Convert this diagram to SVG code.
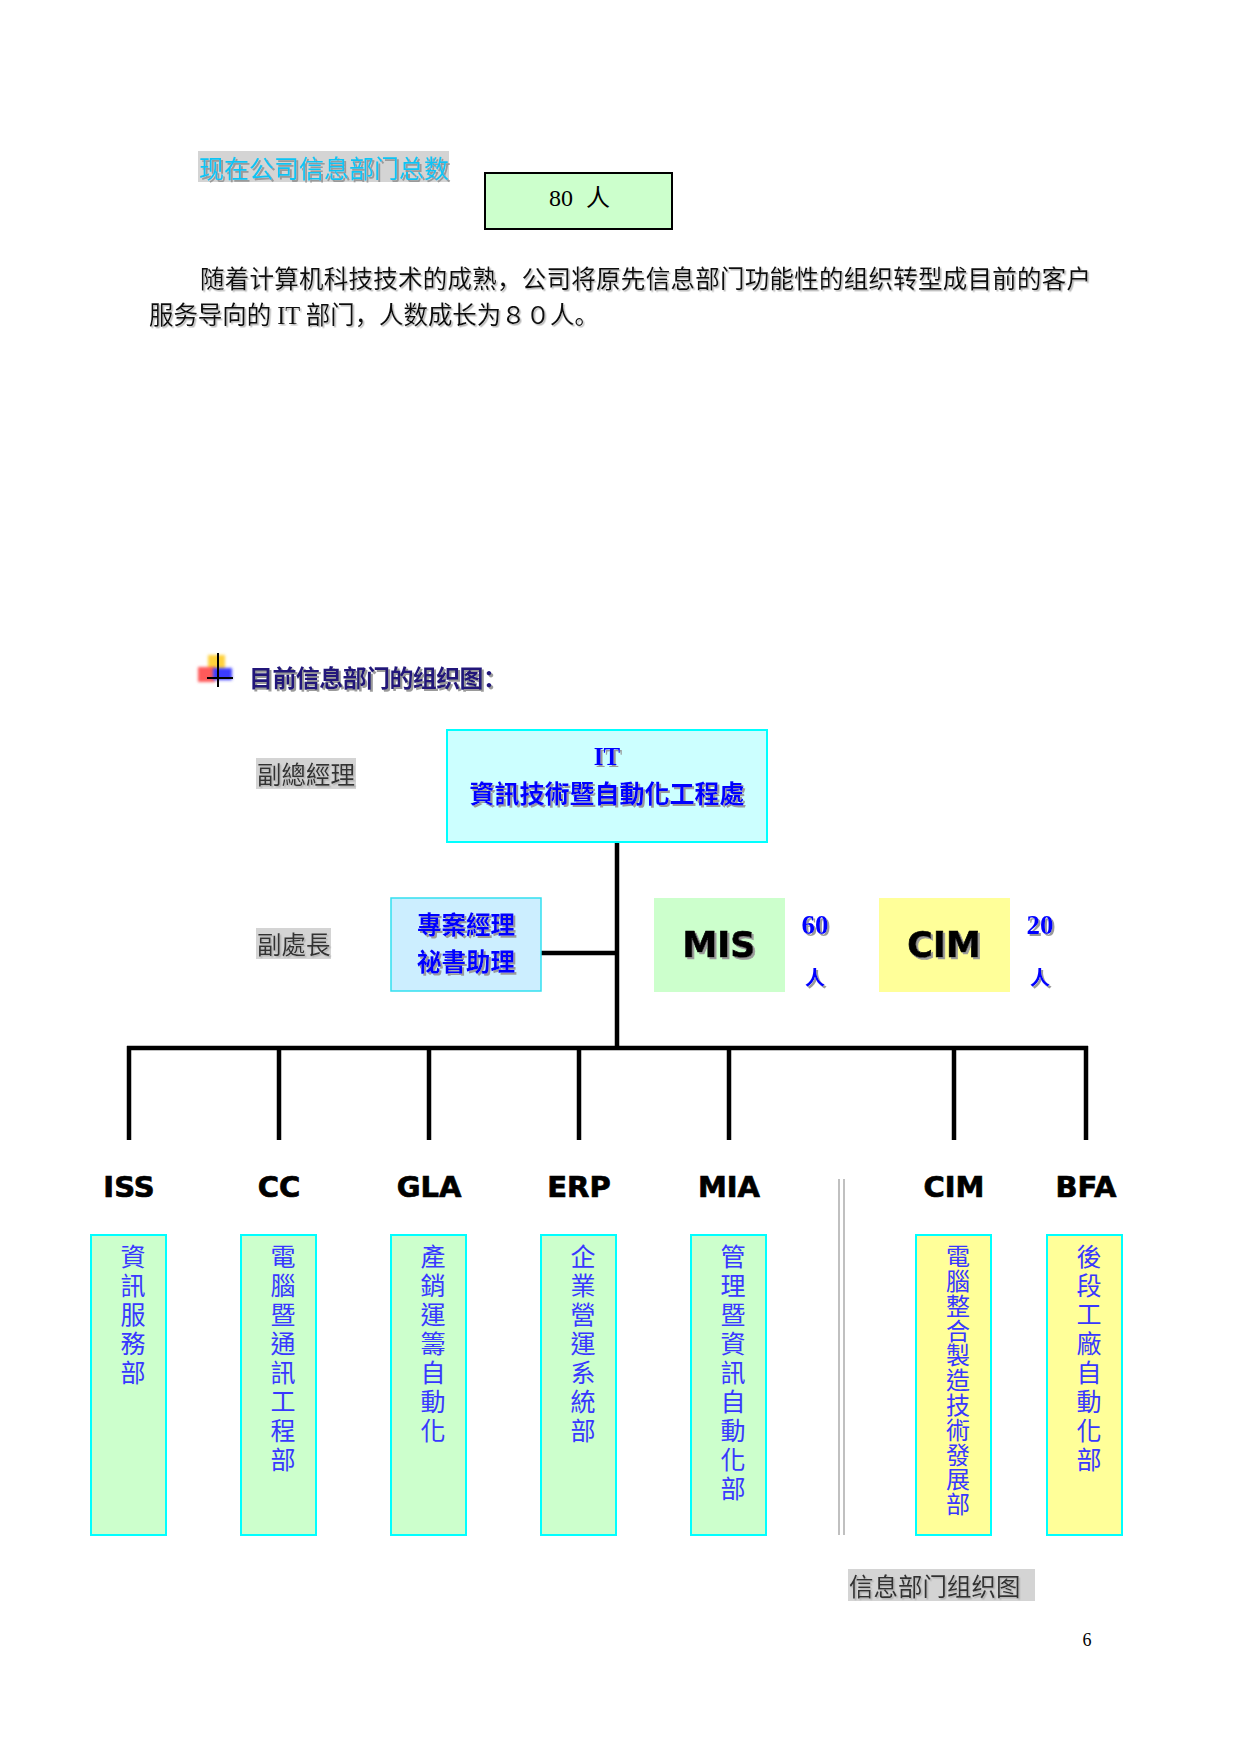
<svg xmlns="http://www.w3.org/2000/svg" width="1241" height="1754" viewBox="0 0 1241 1754">
<defs>
<filter id="sh" x="-10%" y="-30%" width="120%" height="160%"><feDropShadow dx="2" dy="2" stdDeviation="0.5" flood-color="#9a9a9a" flood-opacity="1"/></filter>
<filter id="shs" x="-10%" y="-30%" width="120%" height="160%"><feDropShadow dx="1.5" dy="1.5" stdDeviation="0.6" flood-color="#b0b0b0" flood-opacity="0.9"/></filter>
<filter id="bl" x="-30%" y="-30%" width="160%" height="160%"><feGaussianBlur stdDeviation="1.5"/></filter>
</defs>
<style>
.cjk{font-family:"Noto Sans CJK SC","Noto Sans CJK TC",sans-serif}
.tc{font-family:"Noto Sans CJK TC","Noto Sans CJK SC",sans-serif}
.ser{font-family:"Liberation Serif","Noto Sans CJK SC",serif}
.blk{font-family:"DejaVu Sans","Liberation Sans",sans-serif;font-weight:bold;fill:#000;stroke:#000;stroke-width:0.7;text-anchor:middle}
.gbg{fill:#d4d4d4}
.dept{stroke:#00ffff;stroke-width:2}
.green{fill:#ccffcc}
.yellow{fill:#ffff99}
.vt{font-family:"Noto Sans CJK TC",sans-serif;font-size:25px;fill:#3838ff;writing-mode:vertical-rl;text-orientation:upright;letter-spacing:4px}
.vts{font-family:"Noto Sans CJK TC",sans-serif;font-size:24px;fill:#3838ff;writing-mode:vertical-rl;text-orientation:upright;letter-spacing:0.8px}
.conn{stroke:#000;stroke-width:4.5;fill:none}
.blue{fill:#0000ff;font-weight:bold}
</style>

<g id="total-label">
<rect class="gbg" x="198" y="151" width="251" height="31"/>
<text class="cjk" x="199" y="178" font-size="25" fill="#11c4f4" filter="url(#sh)">现在公司信息部门总数</text>
</g>
<g id="total-box">
<rect x="485" y="173" width="187" height="56" fill="#ccffcc" stroke="#000" stroke-width="2"/>
<text class="ser" y="206" font-size="24" fill="#000"><tspan x="549" font-family="Liberation Serif">80</tspan><tspan x="586">人</tspan></text>
</g>
<g id="paragraph">
<text class="ser" x="200" y="288" font-size="24.5" fill="#111" textLength="891" lengthAdjust="spacing" filter="url(#shs)">随着计算机科技技术的成熟，公司将原先信息部门功能性的组织转型成目前的客户</text>
<text class="ser" x="149" y="324" font-size="24.5" fill="#111" textLength="450" lengthAdjust="spacing" filter="url(#shs)">服务导向的 IT 部门，人数成长为８０人。</text>
</g>

<g id="heading">
<rect x="208" y="655" width="17" height="15" fill="#ffd23c" filter="url(#bl)"/>
<rect x="198" y="667" width="17" height="15" fill="#ff5a5a" filter="url(#bl)"/>
<rect x="213" y="668" width="19" height="12" fill="#3a3aff" filter="url(#bl)"/>
<line x1="218" y1="653" x2="218" y2="687" stroke="#000" stroke-width="2"/>
<line x1="207" y1="678" x2="233" y2="678" stroke="#000" stroke-width="2"/>
<text class="cjk" x="249" y="687" font-size="24" font-weight="bold" fill="#22197a" textLength="258" lengthAdjust="spacing" filter="url(#sh)">目前信息部门的组织图：</text>
</g>

<g id="role-vgm">
<rect class="gbg" x="256" y="758" width="100" height="31"/>
<text class="tc" x="257" y="784" font-size="24.5" fill="#333" filter="url(#shs)">副總經理</text>
</g>
<g id="role-deputy">
<rect class="gbg" x="256" y="928" width="75" height="31"/>
<text class="tc" x="257" y="954" font-size="24.5" fill="#333" filter="url(#shs)">副處長</text>
</g>

<g id="connectors">
<line class="conn" x1="617" y1="842" x2="617" y2="1050"/>
<line class="conn" x1="541" y1="953" x2="617" y2="953"/>
<line class="conn" x1="127" y1="1048" x2="1088" y2="1048"/>
<line class="conn" x1="129" y1="1046" x2="129" y2="1140"/>
<line class="conn" x1="279" y1="1046" x2="279" y2="1140"/>
<line class="conn" x1="429" y1="1046" x2="429" y2="1140"/>
<line class="conn" x1="579" y1="1046" x2="579" y2="1140"/>
<line class="conn" x1="729" y1="1046" x2="729" y2="1140"/>
<line class="conn" x1="954" y1="1046" x2="954" y2="1140"/>
<line class="conn" x1="1086" y1="1046" x2="1086" y2="1140"/>
</g>

<g id="separator">
<line x1="839" y1="1179" x2="839" y2="1535" stroke="#c0c0c0" stroke-width="2"/>
<line x1="844" y1="1179" x2="844" y2="1535" stroke="#c0c0c0" stroke-width="2"/>
</g>

<g id="it-dept">
<rect x="447" y="730" width="320" height="112" fill="#ccffff" stroke="#00ffff" stroke-width="2"/>
<text class="ser blue" x="607" y="765" font-size="25" text-anchor="middle" filter="url(#sh)">IT</text>
<text class="tc blue" x="607" y="803" font-size="25" text-anchor="middle" filter="url(#sh)">資訊技術暨自動化工程處</text>
</g>

<g id="pm-assistant">
<rect x="391" y="898" width="150" height="93" fill="#cceeff" stroke="#33e0f0" stroke-width="1.5"/>
<text class="tc blue" x="466" y="934" font-size="24.5" text-anchor="middle" filter="url(#sh)">專案經理</text>
<text class="tc blue" x="466" y="971" font-size="24.5" text-anchor="middle" filter="url(#sh)">祕書助理</text>
</g>

<g id="mis">
<rect x="654" y="898" width="131" height="94" fill="#ccffcc"/>
<text class="blk" x="719" y="957" font-size="35" filter="url(#sh)">MIS</text>
<text class="ser blue" x="815" y="934" font-size="27" text-anchor="middle" filter="url(#sh)">60</text>
<text class="ser blue" x="815" y="985" font-size="20" text-anchor="middle" filter="url(#sh)">人</text>
</g>

<g id="cim-summary">
<rect x="879" y="898" width="131" height="94" fill="#ffff99"/>
<text class="blk" x="944" y="957" font-size="35" filter="url(#sh)">CIM</text>
<text class="ser blue" x="1040" y="934" font-size="27" text-anchor="middle" filter="url(#sh)">20</text>
<text class="ser blue" x="1040" y="985" font-size="20" text-anchor="middle" filter="url(#sh)">人</text>
</g>

<g id="iss">
<text class="blk" x="129" y="1197" font-size="29">ISS</text>
<rect class="dept green" x="91" y="1235" width="75" height="300"/>
<text class="vt" x="133" y="1244">資訊服務部</text>
</g>
<g id="cc">
<text class="blk" x="279" y="1197" font-size="29">CC</text>
<rect class="dept green" x="241" y="1235" width="75" height="300"/>
<text class="vt" x="283" y="1244">電腦暨通訊工程部</text>
</g>
<g id="gla">
<text class="blk" x="429" y="1197" font-size="29">GLA</text>
<rect class="dept green" x="391" y="1235" width="75" height="300"/>
<text class="vt" x="433" y="1244">產銷運籌自動化</text>
</g>
<g id="erp">
<text class="blk" x="579" y="1197" font-size="29">ERP</text>
<rect class="dept green" x="541" y="1235" width="75" height="300"/>
<text class="vt" x="583" y="1244">企業營運系統部</text>
</g>
<g id="mia">
<text class="blk" x="729" y="1197" font-size="29">MIA</text>
<rect class="dept green" x="691" y="1235" width="75" height="300"/>
<text class="vt" x="733" y="1244">管理暨資訊自動化部</text>
</g>
<g id="cim">
<text class="blk" x="954" y="1197" font-size="29">CIM</text>
<rect class="dept yellow" x="916" y="1235" width="75" height="300"/>
<text class="vts" x="958" y="1244">電腦整合製造技術發展部</text>
</g>
<g id="bfa">
<text class="blk" x="1086" y="1197" font-size="29">BFA</text>
<rect class="dept yellow" x="1047" y="1235" width="75" height="300"/>
<text class="vt" x="1089" y="1244">後段工廠自動化部</text>
</g>

<g id="caption">
<rect class="gbg" x="848" y="1569" width="187" height="32"/>
<text class="cjk" x="849" y="1596" font-size="24.5" fill="#333" filter="url(#shs)">信息部门组织图</text>
</g>
<g id="page-number">
<text class="ser" x="1087" y="1646" font-size="18" fill="#000" text-anchor="middle">6</text>
</g>
</svg>
